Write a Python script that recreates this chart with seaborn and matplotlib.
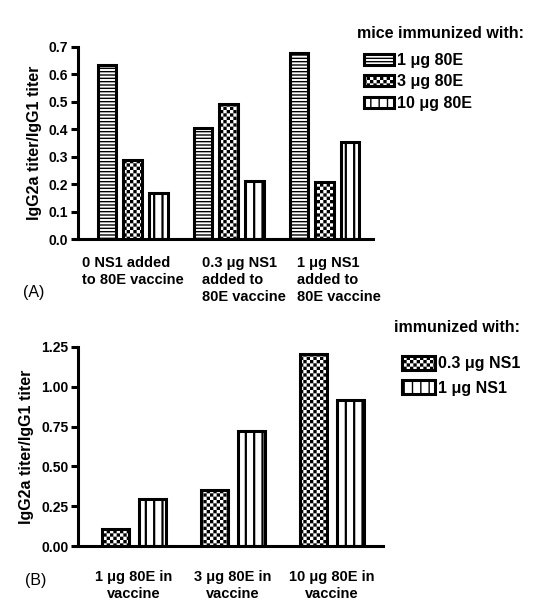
import numpy as np
import pandas as pd
import matplotlib
matplotlib.use("Agg")
import matplotlib.pyplot as plt
import matplotlib.hatch as mhatch
import matplotlib.transforms as mtrans
from matplotlib.path import Path
from matplotlib.patches import Patch
import seaborn as sns

# ---- data -------------------------------------------------------------
groups_a = ["0 NS1 added\nto 80E vaccine",
            "0.3 \u03bcg NS1\nadded to\n80E vaccine",
            "1 \u03bcg NS1\nadded to\n80E vaccine"]
doses_a = ["1 \u03bcg 80E", "3 \u03bcg 80E", "10 \u03bcg 80E"]
ratio_1ug_80e = [0.634, 0.403, 0.678]
ratio_3ug_80e = [0.288, 0.493, 0.208]
ratio_10ug_80e = [0.168, 0.212, 0.354]

groups_b = ["1 \u03bcg 80E in\nvaccine", "3 \u03bcg 80E in\nvaccine",
            "10 \u03bcg 80E in\nvaccine"]
doses_b = ["0.3 \u03bcg NS1", "1 \u03bcg NS1"]
ratio_03ug_ns1 = [0.105, 0.352, 1.204]
ratio_1ug_ns1 = [0.296, 0.720, 0.918]

HATCH_LW = 1.0  # pt
plt.rcParams['hatch.linewidth'] = HATCH_LW
plt.rcParams['font.family'] = ['Liberation Sans', 'DejaVu Sans']


# checkerboard fill: replace the "*" hatch with filled squares
class CheckerHatch(mhatch.HatchPatternBase):
    def __init__(self, hatch, density):
        self.cells = int(hatch.count('*') * density)
        self.num_vertices = (self.cells * self.cells // 2) * 5

    def set_vertices_and_codes(self, vertices, codes):
        n = self.cells
        step = 1.0 / n
        side = step - HATCH_LW / 72.0  # stroke widens each square
        k = 0
        for i in range(n):
            for j in range(n):
                if (i + j) % 2:
                    continue
                x0 = i * step + (step - side) / 2
                y0 = j * step + (step - side) / 2
                vertices[k:k + 5] = [[x0, y0], [x0 + side, y0],
                                     [x0 + side, y0 + side], [x0, y0 + side],
                                     [x0, y0]]
                codes[k:k + 5] = [Path.MOVETO, Path.LINETO, Path.LINETO,
                                  Path.LINETO, Path.CLOSEPOLY]
                k += 5


mhatch._hatch_types = [t for t in mhatch._hatch_types
                       if t is not mhatch.Stars] + [CheckerHatch]

CHECK = '*****'
hatches_a = ['-----', CHECK, '||']
hatches_b = [CHECK, '||']


def style_hatch(p, h):
    p.set_hatch(h)
    if '|' in h and hasattr(p, 'set_hatch_linewidth'):
        p.set_hatch_linewidth(1.6)


df_a = pd.DataFrame({
    "group": groups_a * 3,
    "dose": np.repeat(doses_a, 3),
    "ratio": ratio_1ug_80e + ratio_3ug_80e + ratio_10ug_80e,
})
df_b = pd.DataFrame({
    "group": groups_b * 2,
    "dose": np.repeat(doses_b, 3),
    "ratio": ratio_03ug_ns1 + ratio_1ug_ns1,
})

fig = plt.figure(figsize=(5.34, 6.03), dpi=100)
ax_a = fig.add_axes([78 / 534, 1 - 239 / 603, 295 / 534, 192 / 603])
ax_b = fig.add_axes([78 / 534, 1 - 546 / 603, 305 / 534, 199 / 603])


def draw_panel(ax, df, order, hue_order, hatches, width, gap, xpad):
    sns.barplot(data=df, x="group", y="ratio", hue="dose", order=order,
                hue_order=hue_order, palette=['white'] * len(hue_order),
                saturation=1, width=width, gap=gap, errorbar=None,
                edgecolor='black', linewidth=2.2, legend=False, ax=ax)
    for cont, h in zip(ax.containers, hatches):
        for bar in cont:
            style_hatch(bar, h)
    for side in ['top', 'right']:
        ax.spines[side].set_visible(False)
    for side in ['left', 'bottom']:
        ax.spines[side].set_linewidth(2.2)
    ax.tick_params(axis='y', direction='out', length=5, width=2.2,
                   labelsize=10, pad=2)
    ax.tick_params(axis='x', length=0, labelsize=10.5, pad=xpad)
    for lbl in ax.get_yticklabels() + ax.get_xticklabels():
        lbl.set_fontweight('bold')
        lbl.set_linespacing(1.3)
    ax.set_xlabel('')
    ax.set_ylabel('IgG2a titer/IgG1 titer', fontsize=11.5,
                  fontweight='bold', labelpad=5)


draw_panel(ax_a, df_a, groups_a, doses_a, hatches_a, 0.8, 0.27, 12)
ax_a.set_ylim(0, 0.7)
ax_a.set_yticks(np.arange(0, 0.71, 0.1))
ax_a.set_yticklabels([f"{v:.1f}" for v in np.arange(0, 0.71, 0.1)],
                     fontweight='bold')
ax_a.set_xlim(-0.57, 2.505)
for lbl, dx in zip(ax_a.get_xticklabels(), [0, 15, 14]):
    lbl.set_multialignment('left')
    lbl.set_transform(lbl.get_transform() +
                      mtrans.ScaledTranslation(dx / 100, 0,
                                               fig.dpi_scale_trans))

draw_panel(ax_b, df_b, groups_b, doses_b, hatches_b, 0.75, 0.27, 17)
ax_b.set_ylim(0, 1.25)
ax_b.set_yticks(np.arange(0, 1.26, 0.25))
ax_b.set_yticklabels([f"{v:.2f}" for v in np.arange(0, 1.26, 0.25)],
                     fontweight='bold')
ax_b.set_xlim(-0.566, 2.515)
for lbl in ax_b.get_xticklabels():
    lbl.set_multialignment('center')


# legends (title drawn as separate text)
def add_legend(ax, labels, hatches, title, title_xy, anchor, hl, hh, sp):
    handles = []
    for h in hatches:
        p = Patch(facecolor='white', edgecolor='black', linewidth=2.2)
        style_hatch(p, h)
        handles.append(p)
    leg = ax.legend(handles, labels, frameon=False,
                    loc='upper left', bbox_to_anchor=anchor,
                    bbox_transform=fig.transFigure, fontsize=11.5,
                    handlelength=hl, handleheight=hh, handletextpad=0.2,
                    labelspacing=sp, borderaxespad=0, borderpad=0)
    for t in leg.get_texts():
        t.set_fontweight('bold')
    fig.text(title_xy[0] / 534, 1 - title_xy[1] / 603, title,
             fontsize=11.5, fontweight='bold', va='center', ha='left')
    return leg


add_legend(ax_a, doses_a, hatches_a, 'mice immunized with:', (357, 33),
           (364 / 534, 1 - 53 / 603), 1.85, 0.7, 0.4)
add_legend(ax_b, doses_b, hatches_b, 'immunized with:', (394, 328),
           (402 / 534, 1 - 356 / 603), 2.05, 0.95, 0.55)

fig.text(23 / 534, 1 - 293 / 603, '(A)', fontsize=11.5, va='center')
fig.text(25 / 534, 1 - 580 / 603, '(B)', fontsize=11.5, va='center')

fig.savefig('out.png', dpi=100)
